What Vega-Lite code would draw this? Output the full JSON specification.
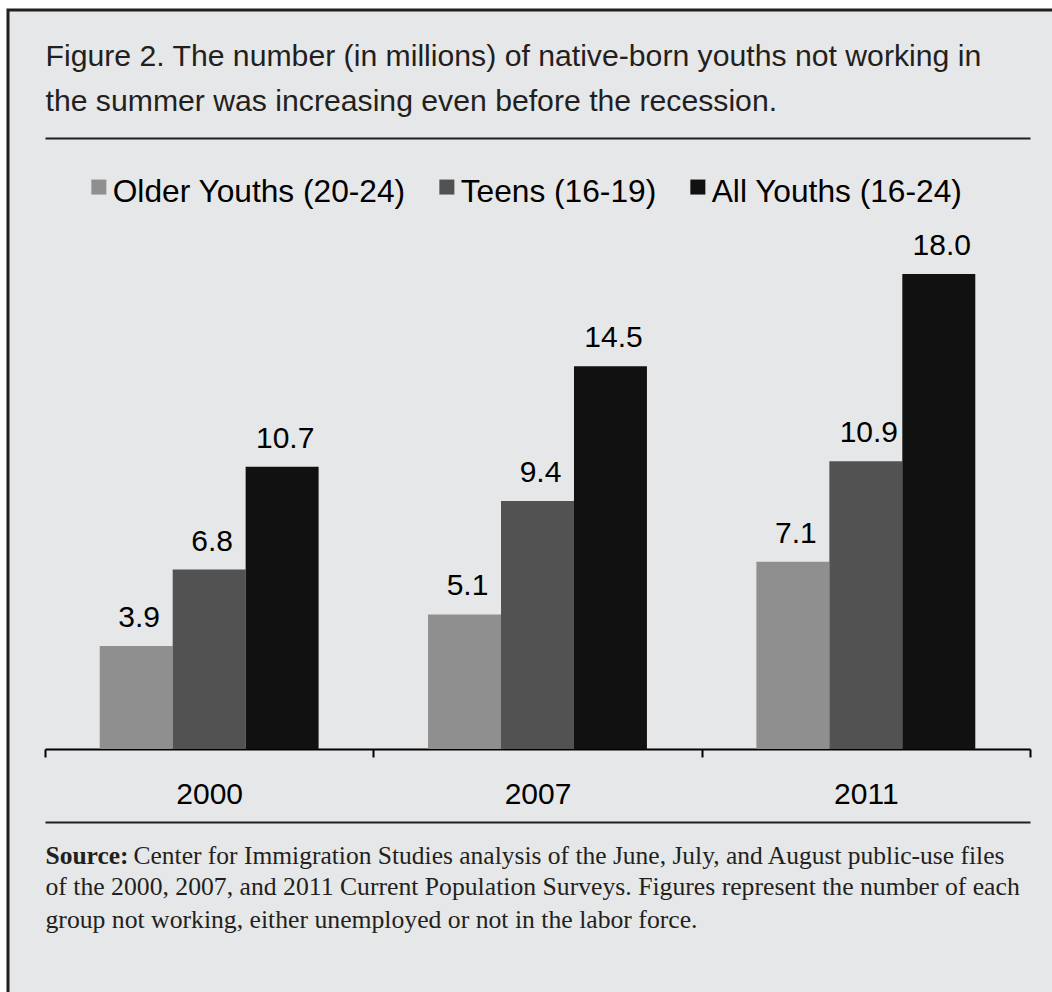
{
  "$schema": "https://vega.github.io/schema/vega-lite/v6.json",
  "width": 1048,
  "height": 986,
  "autosize": {"type": "none"},
  "padding": {"left": 8, "top": 10, "right": -4, "bottom": -4},
  "background": "#ffffff",
  "config": {
    "view": {"fill": "#e6e7e8", "stroke": "#231f20", "strokeWidth": 3},
    "axis": {"grid": false},
    "font": "Liberation Sans"
  },
  "data": {
    "values": [
      {"year": "2000", "group": "Older Youths (20-24)", "value": 3.9},
      {"year": "2000", "group": "Teens (16-19)", "value": 6.8},
      {"year": "2000", "group": "All Youths (16-24)", "value": 10.7},
      {"year": "2007", "group": "Older Youths (20-24)", "value": 5.1},
      {"year": "2007", "group": "Teens (16-19)", "value": 9.4},
      {"year": "2007", "group": "All Youths (16-24)", "value": 14.5},
      {"year": "2011", "group": "Older Youths (20-24)", "value": 7.1},
      {"year": "2011", "group": "Teens (16-19)", "value": 10.9},
      {"year": "2011", "group": "All Youths (16-24)", "value": 18.0}
    ]
  },
  "resolve": {"axis": {"x": "independent", "y": "independent"}},
  "layer": [
    {
      "mark": {"type": "bar"},
      "encoding": {
        "x": {
          "field": "year", "type": "nominal", "sort": ["2000", "2007", "2011"],
          "scale": {"range": [37, 1022], "paddingInner": 0, "paddingOuter": 0},
          "axis": {
            "orient": "bottom", "offset": -247, "title": null, "labelAngle": 0,
            "tickBand": "extent", "tickSize": 8, "tickWidth": 2, "tickColor": "#000000",
            "domainColor": "#000000", "domainWidth": 2,
            "labelFont": "Liberation Sans", "labelFontSize": 30, "labelColor": "#000000",
            "labelBaseline": "alphabetic", "labelPadding": 46
          }
        },
        "xOffset": {
          "field": "group", "type": "nominal",
          "sort": ["Older Youths (20-24)", "Teens (16-19)", "All Youths (16-24)"],
          "scale": {"paddingOuter": 0.75, "paddingInner": 0}
        },
        "y": {
          "field": "value", "type": "quantitative",
          "scale": {"domain": [0, 18], "range": [739, 264], "nice": false},
          "axis": {
            "orient": "left", "domain": false, "ticks": false, "labels": false, "grid": false,
            "title": ["Figure 2. The number (in millions) of native-born youths not working in", "the summer was increasing even before the recession."],
            "titleX": 37, "titleY": 55, "titleAngle": 0, "titleAlign": "left", "titleBaseline": "alphabetic",
            "titleFont": "Liberation Sans", "titleFontSize": 30.2, "titleFontWeight": "normal",
            "titleColor": "#231f20", "titleLineHeight": 45, "titleLimit": 2000
          }
        },
        "color": {
          "field": "group", "type": "nominal",
          "scale": {
            "domain": ["Older Youths (20-24)", "Teens (16-19)", "All Youths (16-24)"],
            "range": ["#8f8f8f", "#525252", "#111111"]
          },
          "legend": {
            "orient": "none", "legendX": 75, "legendY": 166, "direction": "horizontal", "title": null,
            "symbolType": "M-1,-1.67L1,-1.67L1,0.33L-1,0.33Z", "symbolSize": 225, "symbolStrokeWidth": 0,
            "labelFont": "Liberation Sans", "labelFontSize": 31.7, "labelColor": "#000000",
            "labelOffset": -2, "columnPadding": 25, "labelLimit": 600, "padding": 0
          }
        }
      }
    },
    {
      "mark": {"type": "text", "dx": 3, "dy": -19, "baseline": "alphabetic", "align": "center", "font": "Liberation Sans", "fontSize": 30, "color": "#000000"},
      "encoding": {
        "x": {
          "field": "year", "type": "nominal", "sort": ["2000", "2007", "2011"],
          "axis": {"orient": "top", "offset": -128, "ticks": false, "labels": false, "title": null, "domainColor": "#231f20", "domainWidth": 2}
        },
        "xOffset": {
          "field": "group", "type": "nominal",
          "sort": ["Older Youths (20-24)", "Teens (16-19)", "All Youths (16-24)"]
        },
        "y": {
          "field": "value", "type": "quantitative",
          "axis": {
            "orient": "left", "domain": false, "ticks": false, "labels": false, "grid": false,
            "title": "Source:", "titleX": 37, "titleY": 853, "titleAngle": 0, "titleAlign": "left", "titleBaseline": "alphabetic",
            "titleFont": "Liberation Serif", "titleFontSize": 25.5, "titleFontWeight": "bold", "titleColor": "#231f20", "titleLimit": 2000
          }
        },
        "text": {"field": "value", "type": "quantitative", "format": ".1f"}
      }
    },
    {
      "mark": {"type": "text", "opacity": 0},
      "encoding": {
        "x": {
          "field": "year", "type": "nominal", "sort": ["2000", "2007", "2011"],
          "axis": {
            "orient": "bottom", "offset": -174, "ticks": false, "labels": false, "domainColor": "#231f20", "domainWidth": 2,
            "title": ["of the 2000, 2007, and 2011 Current Population Surveys. Figures represent the number of each", "group not working, either unemployed or not in the labor force."],
            "titleX": 37, "titleY": 72, "titleAlign": "left", "titleAnchor": "start", "titleBaseline": "alphabetic",
            "titleFont": "Liberation Serif", "titleFontSize": 25.7, "titleFontWeight": "normal", "titleColor": "#231f20",
            "titleLineHeight": 33, "titleLimit": 2000
          }
        },
        "y": {
          "field": "value", "type": "quantitative",
          "axis": {
            "orient": "left", "domain": false, "ticks": false, "labels": false, "grid": false,
            "title": "Center for Immigration Studies analysis of the June, July, and August public-use files",
            "titleX": 125, "titleY": 853, "titleAngle": 0, "titleAlign": "left", "titleBaseline": "alphabetic",
            "titleFont": "Liberation Serif", "titleFontSize": 25.5, "titleFontWeight": "normal", "titleColor": "#231f20", "titleLimit": 2000
          }
        },
        "text": {"field": "value", "type": "quantitative"}
      }
    }
  ]
}
